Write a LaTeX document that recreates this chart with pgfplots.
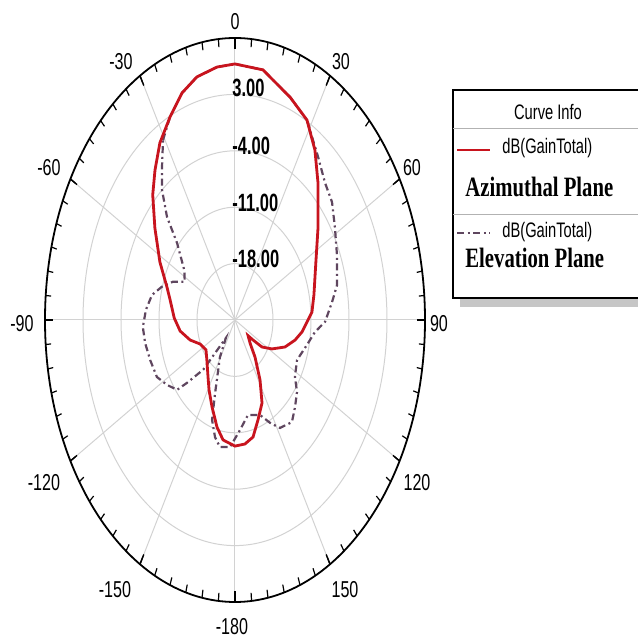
\documentclass[border=0pt]{standalone}
\usepackage{fontspec}
\usepackage{pgfplots}
\usepackage{pgfplotstable}
\pgfplotsset{compat=1.18}
\setmainfont{Liberation Sans}
\newfontfamily\tickfont[FakeStretch=0.7]{Liberation Sans}
\newfontfamily\ringfont[FakeStretch=0.66]{Liberation Sans}
\newfontfamily\legserif[FakeStretch=0.74]{Liberation Serif}
\definecolor{azred}{RGB}{200,20,30}
\definecolor{elgray}{RGB}{95,70,95}

\pgfplotstableread{
t db
0 6.78
9.4 6.47
20.1 4.47
28.1 3.14
34.9 0.73
42.0 -2.14
53.3 -5.93
64.2 -8.45
77.9 -10.13
86.0 -10.79
91.1 -11.74
96.9 -12.58
102.7 -13.66
110.0 -15.2
117.8 -17.3
124.0 -19.0
126.8 -20.87
129 -21.9
136 -21.0
141.3 -19.1
148.2 -16.25
154.2 -13.56
161.2 -11.88
167.1 -10.1
173.2 -9.5
180 -9.35
188.4 -9.95
194 -11.3
201.4 -13.4
208.9 -15.1
215.1 -16.36
226 -17.8
235.3 -18.5
245.2 -17.9
253.3 -16.36
262.3 -14.8
271.3 -13.8
281.7 -12.8
287.6 -11.9
297.5 -9.4
307.7 -6.35
315.7 -3.3
321.6 -1.27
327.8 0.97
334.6 2.9
340.9 4.82
346.9 5.98
354 6.57
360 6.78
}\azim

\pgfplotstableread{
t db
-30.7 0.97
-25.4 2.90
-19.1 4.82
-13.1 5.98
-6 6.57
0 6.78
9.4 6.47
20.1 4.47
28.1 3.14
37.1 0.375
44.3 -1.24
50.7 -1.9
58.2 -3.33
66.8 -4.56
77 -5.7
82.9 -6.98
90.8 -8.41
95.8 -10.2
103.2 -11.4
113.5 -12.54
122.6 -11.9
128 -10.5
134.4 -9.53
140.4 -8.55
148.3 -9.25
153.2 -10.7
158.6 -12.33
168.6 -12.96
176.2 -11.3
183.3 -9.2
190 -9.0
194.2 -10.0
198.8 -11.9
202 -15.2
204.1 -16.8
211 -19.6
217 -22.2
223.5 -16.5
228.6 -13.2
230.9 -11.25
237.3 -10.1
243.8 -8.97
252.4 -8.6
260.2 -8.2
267 -8.0
274.5 -8.55
281.5 -9.4
287 -10.9
292.5 -12.6
297.1 -14.6
303.5 -13.8
311.8 -10.7
315.6 -7.1
320.2 -4.0
324.7 -1.73
329.3 0.97
}\elev

\begin{document}
\begin{tikzpicture}
\useasboundingbox (-117.5pt,-158.5pt) rectangle (201.5pt,160pt);
% polar grid (x and y units differ: the chart is an ellipse)
\begin{scope}[x=2.7143pt,y=4.02857pt]
  \foreach \r in {7,14,21,28} \draw[gray!35,line width=0.5pt] (0,0) circle[radius=\r];
  \foreach \a in {0,30,...,330} \draw[gray!35,line width=0.5pt] (0,0) -- (90-\a:35);
  \foreach \a in {0,5,...,355} \draw[black,line width=0.6pt] (90-\a:35) -- (90-\a:34);
  \foreach \a in {0,30,...,330} \draw[black,line width=0.7pt] (90-\a:35) -- (90-\a:33.6);
  \draw[black,line width=0.9pt] (0,0) circle[radius=35];
\end{scope}

\begin{axis}[at={(0,0)}, anchor=center, scale only axis,
  width=190pt, height=282pt,
  xmin=-35, xmax=35, ymin=-35, ymax=35,
  axis lines=none, clip=false]
\addplot[elgray, line width=1.1pt, dash pattern=on 3.5pt off 1.8pt on 1pt off 1.8pt]
  table[x expr={(\thisrow{db}+25)*sin(\thisrow{t})}, y expr={(\thisrow{db}+25)*cos(\thisrow{t})}] {\elev};
\addplot[azred, line width=1.4pt]
  table[x expr={(\thisrow{db}+25)*sin(\thisrow{t})}, y expr={(\thisrow{db}+25)*cos(\thisrow{t})}] {\azim};
\end{axis}

% ring labels
\begin{scope}[every node/.style={inner sep=0pt, anchor=base west, font=\ringfont\bfseries\fontsize{12.5}{13}\selectfont}]
  \node at (-1.5pt,111.5pt) {3.00};
  \node at (-1.5pt,82.5pt) {-4.00};
  \node at (-1.5pt,54pt) {-11.00};
  \node at (-1.5pt,26pt) {-18.00};
\end{scope}

% angle labels
\begin{scope}[every node/.style={inner sep=0pt, font=\tickfont\fontsize{11.5}{12}\selectfont}]
  \node at (0pt,149pt) {0};
  \node at (53pt,129pt) {30};
  \node at (88.5pt,76pt) {60};
  \node at (102pt,-2pt) {90};
  \node at (91pt,-81.5pt) {120};
  \node at (55pt,-135pt) {150};
  \node at (-1.5pt,-153.5pt) {-180};
  \node at (-60pt,-135pt) {-150};
  \node at (-95.5pt,-81.5pt) {-120};
  \node at (-106.5pt,-2pt) {-90};
  \node at (-93pt,76pt) {-60};
  \node at (-57pt,129pt) {-30};
\end{scope}

% legend box
\fill[gray!45] (112.5pt,10.5pt) rectangle (205pt,6.5pt);
\fill[white] (109pt,11pt) rectangle (205pt,115pt);
\draw[black,line width=0.7pt] (205pt,11pt) -- (109pt,11pt) -- (109pt,115pt) -- (205pt,115pt);
\draw[gray!60,line width=0.5pt] (109pt,95.5pt) -- (205pt,95.5pt);
\draw[gray!60,line width=0.5pt] (109pt,52.5pt) -- (205pt,52.5pt);
\node[inner sep=0pt, font=\tickfont\fontsize{10.5}{11}\selectfont] at (156.5pt,104pt) {Curve Info};
\draw[azred,line width=1.4pt] (111pt,85pt) -- (127.5pt,85pt);
\node[inner sep=0pt, anchor=west, font=\tickfont\fontsize{10.5}{11}\selectfont] at (133.5pt,86pt) {dB(GainTotal)};
\node[inner sep=0pt, anchor=west, font=\legserif\bfseries\fontsize{14}{15}\selectfont] at (115pt,66.5pt) {Azimuthal Plane};
\draw[elgray,line width=1.1pt, dash pattern=on 3.5pt off 1.8pt on 1pt off 1.8pt] (111pt,43.5pt) -- (127.5pt,43.5pt);
\node[inner sep=0pt, anchor=west, font=\tickfont\fontsize{10.5}{11}\selectfont] at (133.5pt,44pt) {dB(GainTotal)};
\node[inner sep=0pt, anchor=west, font=\legserif\bfseries\fontsize{14}{15}\selectfont] at (115pt,31pt) {Elevation Plane};
\end{tikzpicture}
\end{document}
